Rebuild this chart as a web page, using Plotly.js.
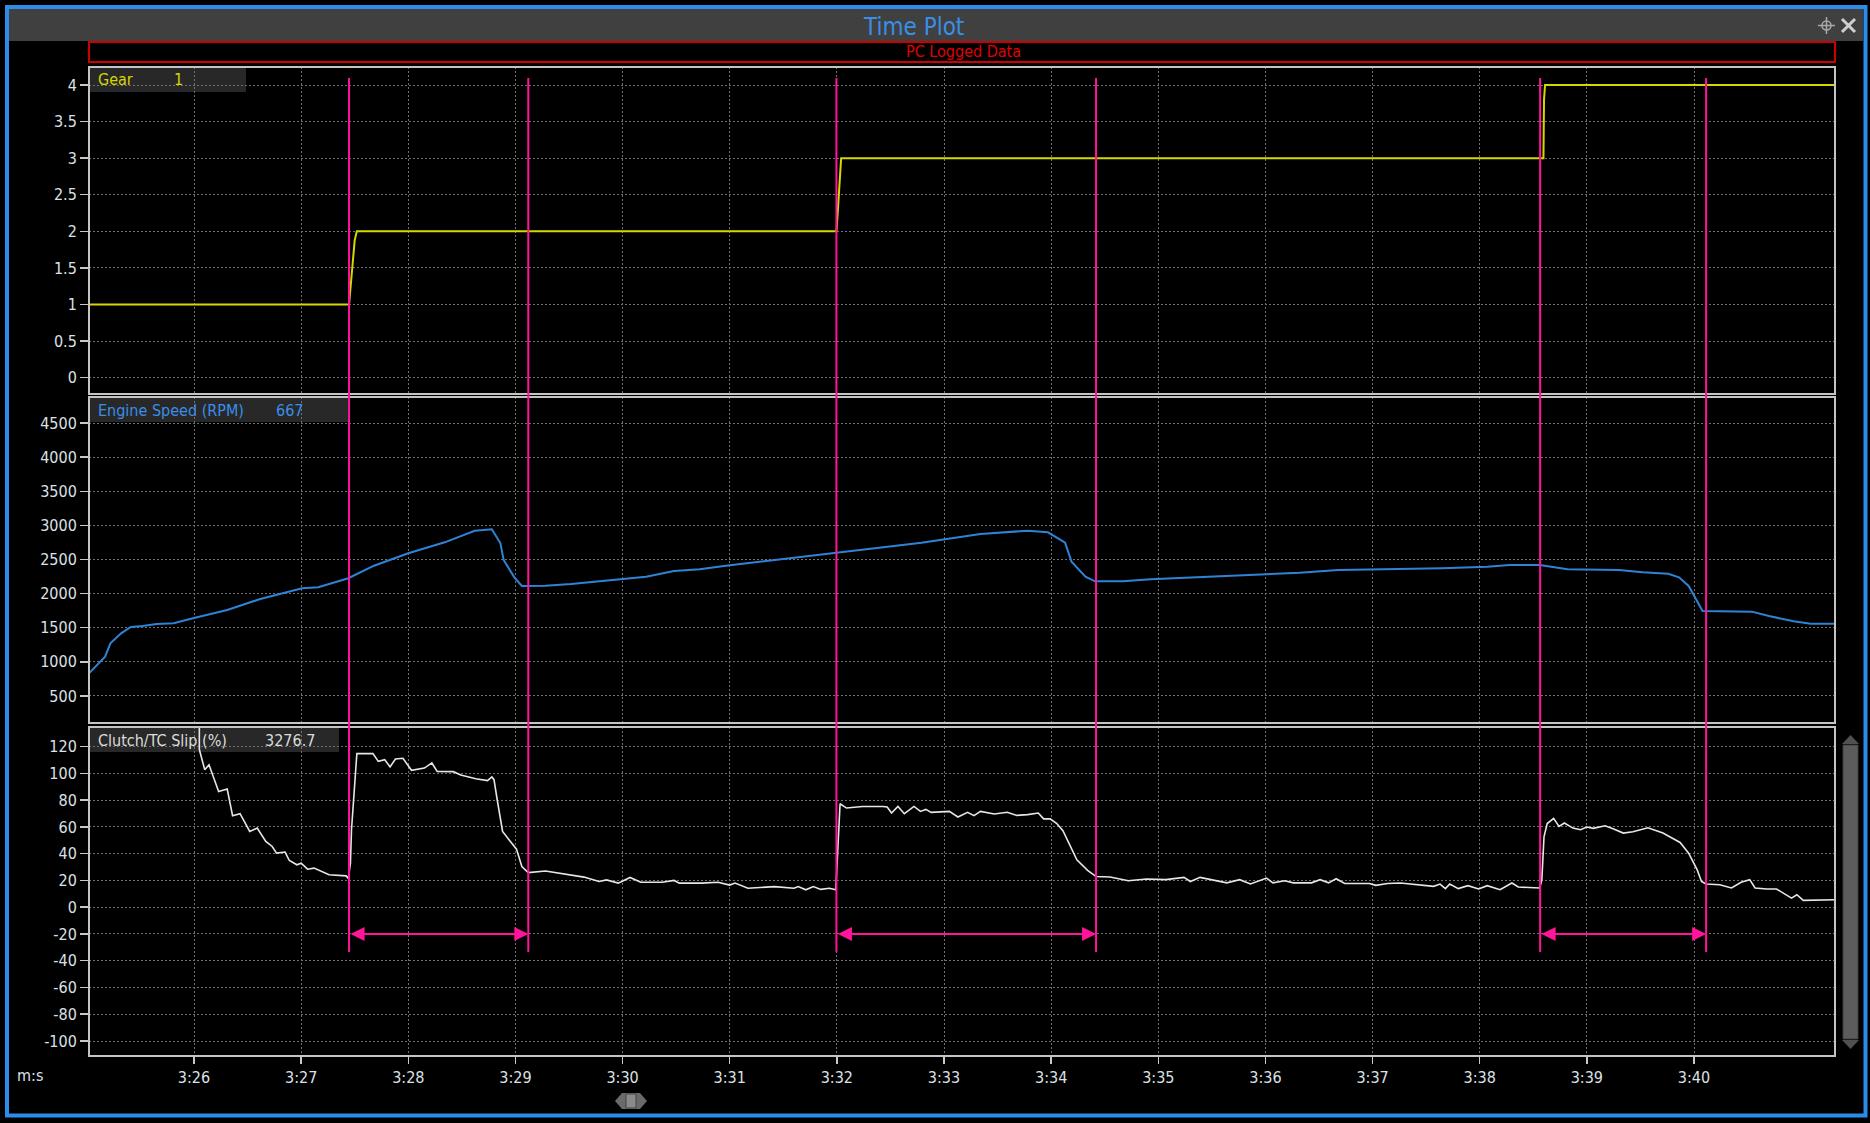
<!DOCTYPE html>
<html>
<head>
<meta charset="utf-8">
<script src="https://cdn.plot.ly/plotly-3.0.1.min.js"></script>
<style>
  html, body { margin: 0; padding: 0; background: #000; }
  #chart { width: 1870px; height: 1123px; }
</style>
</head>
<body>
<div id="chart"></div>
<script>
// ---------------- DATA (time in seconds, 205 s = 3:25) ----------------
const gearTime  = [205.02, 207.447, 207.455, 207.47, 207.484, 207.50, 207.52, 211.996, 212.01, 212.025, 212.04, 218.595, 218.60, 218.61, 221.32];
const gearValue = [1, 1, 1.13, 1.38, 1.64, 1.88, 2, 2, 2.3, 2.7, 3, 3, 3.8, 4, 4];

const rpmTime  = [205.02, 205.17, 205.22, 205.32, 205.41, 205.52, 205.65, 205.81, 206.0, 206.31, 206.61, 207.01, 207.16, 207.44, 207.68, 208.0, 208.34, 208.62, 208.78, 208.86, 208.89, 208.99, 209.06, 209.28, 209.52, 209.82, 210.22, 210.48, 210.72, 211.0, 211.4, 211.79, 211.99, 212.2, 212.45, 212.79, 213.01, 213.34, 213.78, 213.97, 214.08, 214.13, 214.19, 214.32, 214.41, 214.67, 214.93, 215.29, 215.88, 216.32, 216.68, 217.65, 218.07, 218.28, 218.56, 218.72, 218.82, 219.3, 219.52, 219.76, 219.86, 219.95, 220.02, 220.08, 220.54, 220.7, 220.93, 221.09, 221.32];
const rpmValue = [832, 1076, 1272, 1418, 1511, 1526, 1555, 1565, 1643, 1760, 1917, 2078, 2093, 2225, 2409, 2591, 2752, 2922, 2942, 2737, 2493, 2239, 2112, 2116, 2141, 2189, 2248, 2331, 2356, 2415, 2488, 2566, 2605, 2639, 2688, 2747, 2796, 2874, 2922, 2898, 2796, 2747, 2468, 2248, 2180, 2180, 2209, 2233, 2282, 2307, 2346, 2371, 2395, 2419, 2419, 2380, 2356, 2346, 2312, 2292, 2239, 2112, 1907, 1745, 1736, 1672, 1594, 1560, 1560];

const slipTime = [205.02, 206.04, 206.05, 206.10, 206.14, 206.23, 206.31, 206.36, 206.43, 206.52, 206.59, 206.67, 206.73, 206.77, 206.85, 206.89, 206.96, 207.0, 207.06, 207.12, 207.26, 207.42, 207.44, 207.46, 207.47, 207.49, 207.51, 207.52, 207.67, 207.72, 207.78, 207.83, 207.88, 207.95, 208.03, 208.15, 208.22, 208.27, 208.42, 208.49, 208.63, 208.74, 208.78, 208.80, 208.83, 208.88, 208.94, 209.01, 209.06, 209.12, 209.28, 209.46, 209.64, 209.78, 209.85, 209.96, 210.07, 210.17, 210.37, 210.48, 210.53, 210.74, 210.89, 211.0, 211.05, 211.17, 211.42, 211.6, 211.64, 211.71, 211.78, 211.85, 211.93, 211.99, 212.01, 212.03, 212.09, 212.24, 212.43, 212.47, 212.51, 212.57, 212.63, 212.72, 212.78, 212.83, 212.88, 213.05, 213.13, 213.22, 213.28, 213.34, 213.47, 213.59, 213.68, 213.78, 213.88, 213.93, 213.99, 214.05, 214.11, 214.18, 214.24, 214.34, 214.42, 214.55, 214.72, 214.89, 215.07, 215.24, 215.3, 215.39, 215.51, 215.64, 215.76, 215.86, 216.01, 216.07, 216.18, 216.26, 216.43, 216.51, 216.59, 216.66, 216.74, 216.97, 217.03, 217.14, 217.26, 217.57, 217.63, 217.68, 217.72, 217.80, 217.89, 217.99, 218.07, 218.19, 218.30, 218.36, 218.56, 218.58, 218.60, 218.63, 218.69, 218.74, 218.79, 218.87, 218.94, 219.0, 219.06, 219.17, 219.25, 219.34, 219.43, 219.57, 219.71, 219.87, 219.95, 220.03, 220.07, 220.11, 220.24, 220.35, 220.44, 220.52, 220.57, 220.68, 220.77, 220.91, 220.96, 221.02, 221.32];
const slipValue = [3276.7, 3276.7, 117.8, 102.8, 106.5, 86.5, 88.3, 68.4, 69.9, 56.6, 59.1, 49.1, 45.4, 40.4, 41.2, 34.9, 31.7, 32.9, 28.4, 29.2, 24.2, 23.4, 21.4, 32.9, 57.9, 80.3, 102.8, 114.8, 114.8, 109, 110.3, 104.8, 110.8, 111.3, 102.3, 104.0, 107.8, 101.5, 101.3, 98.8, 96.0, 94.6, 97.3, 95.3, 80.3, 56.6, 50.4, 43.4, 30.4, 25.9, 27.0, 24.9, 22.5, 19.2, 20.4, 18.0, 22.2, 18.6, 18.6, 20.0, 18.0, 18.0, 18.6, 16.5, 18.0, 14.2, 15.4, 14.2, 15.4, 13.0, 15.4, 13.3, 14.2, 13.0, 45.4, 77.3, 74.1, 75.3, 75.3, 74.9, 70.4, 75.3, 69.9, 75.3, 71.6, 73.1, 70.9, 71.6, 67.4, 70.9, 68.4, 71.6, 69.7, 70.9, 68.6, 69.2, 70.4, 66.0, 66.0, 62.7, 57.2, 45.4, 35.4, 27.5, 22.9, 22.6, 19.8, 21.1, 20.6, 22.3, 19.2, 22.3, 20.1, 18.2, 20.6, 17.4, 21.8, 18.2, 19.8, 18.2, 18.2, 20.6, 18.2, 21.3, 17.7, 17.7, 16.3, 17.7, 18.1, 15.6, 17.3, 13.9, 17.3, 13.9, 16.1, 13.6, 16.1, 13.1, 18.1, 15.1, 14.4, 20.6, 52.6, 62.5, 66.4, 60.4, 62.9, 59.1, 57.9, 59.9, 58.9, 60.9, 58.4, 55.4, 56.4, 59.4, 55.4, 48.4, 40.4, 27.9, 19.2, 17.3, 16.8, 14.4, 18.6, 20.6, 14.4, 13.6, 13.6, 6.8, 9.3, 5.1, 5.6];

const shiftStart = [207.447, 211.996, 218.564];
const shiftEnd   = [209.12, 214.419, 220.113];

const xTickVals = [206, 207, 208, 209, 210, 211, 212, 213, 214, 215, 216, 217, 218, 219, 220];
const xTickText = ['3:26', '3:27', '3:28', '3:29', '3:30', '3:31', '3:32', '3:33', '3:34', '3:35', '3:36', '3:37', '3:38', '3:39', '3:40'];
const gearTickVals = [0, 0.5, 1, 1.5, 2, 2.5, 3, 3.5, 4];
const gearTickText = ['0', '0.5', '1', '1.5', '2', '2.5', '3', '3.5', '4'];
const rpmTickVals = [500, 1000, 1500, 2000, 2500, 3000, 3500, 4000, 4500];
const rpmTickText = ['500', '1000', '1500', '2000', '2500', '3000', '3500', '4000', '4500'];
const slipTickVals = [-100, -80, -60, -40, -20, 0, 20, 40, 60, 80, 100, 120];
const slipTickText = ['-100', '-80', '-60', '-40', '-20', '0', '20', '40', '60', '80', '100', '120'];

const channelNames  = ['Gear', 'Engine Speed (RPM)', 'Clutch/TC Slip (%)'];
const channelValues = ['1', '667', '3276.7'];
const windowTitle = 'Time Plot';
const sourceLabel = 'PC Logged Data';
const timeUnitLabel = 'm:s';

// ---------------- LAYOUT HELPERS ----------------
const PL = 89, PR = 1835, PT = 67, PB = 1056;
const px = x => (x - PL) / (PR - PL);
const py = y => (PB - y) / (PB - PT);
const FONT = '"DejaVu Sans Condensed", "DejaVu Sans", sans-serif';
const PINK = '#ff149a';
const GRID = '#707070';
const TICKCOL = '#dde1e6';

const traces = [
  { x: gearTime, y: gearValue, xaxis: 'x', yaxis: 'y', mode: 'lines',
    line: { color: '#d6d600', width: 2 }, hoverinfo: 'skip' },
  { x: rpmTime, y: rpmValue, xaxis: 'x', yaxis: 'y2', mode: 'lines',
    line: { color: '#2f83d6', width: 2 }, hoverinfo: 'skip' },
  { x: slipTime, y: slipValue, xaxis: 'x', yaxis: 'y3', mode: 'lines',
    line: { color: '#e6e6e6', width: 1.6 }, hoverinfo: 'skip' }
];

const yCommon = {
  showgrid: true, gridcolor: GRID, griddash: '2px,2px', gridwidth: 1,
  zeroline: false, showline: false,
  ticks: 'outside', ticklen: 8, tickwidth: 1.5, tickcolor: '#c8c8c8',
  tickfont: { family: FONT, size: 16, color: TICKCOL },
  tickmode: 'array', fixedrange: true, anchor: 'x'
};

const shapes = [];
// window frame
shapes.push({ type: 'rect', xref: 'paper', yref: 'paper', x0: px(9), x1: px(1863), y0: py(9), y1: py(41),
  fillcolor: '#404040', line: { width: 0 }, layer: 'below' });
shapes.push({ type: 'rect', xref: 'paper', yref: 'paper', x0: px(7), x1: px(1865.5), y0: py(7), y1: py(1115.5),
  fillcolor: 'rgba(0,0,0,0)', line: { color: '#2b8de8', width: 4 }, layer: 'above' });
// source label box
shapes.push({ type: 'rect', xref: 'paper', yref: 'paper', x0: 0, x1: 1, y0: py(42), y1: py(62),
  fillcolor: 'rgba(0,0,0,0)', line: { color: '#cc0000', width: 2 }, layer: 'above' });
// legend boxes
const legendBoxes = [[PL, 246, 67, 92], [PL, 348, 397, 422], [PL, 339, 727, 752]];
legendBoxes.forEach(b => shapes.push({ type: 'rect', xref: 'paper', yref: 'paper',
  x0: px(b[0]), x1: px(b[1]), y0: py(b[3]), y1: py(b[2]),
  fillcolor: '#282828', line: { width: 0 }, layer: 'below' }));
// panel borders
['y', 'y2', 'y3'].forEach(ax => shapes.push({ type: 'rect', xref: 'x domain', yref: ax + ' domain',
  x0: 0, x1: 1, y0: 0, y1: 1, fillcolor: 'rgba(0,0,0,0)', line: { color: '#c4c4c4', width: 2 }, layer: 'above' }));
// cursor lines
shiftStart.concat(shiftEnd).forEach(t => shapes.push({ type: 'line', xref: 'x', yref: 'paper',
  x0: t, x1: t, y0: py(952), y1: py(78), line: { color: PINK, width: 2 }, layer: 'above' }));
// scrollbar (right)
shapes.push({ type: 'rect', xref: 'paper', yref: 'paper', x0: px(1843), x1: px(1858), y0: py(1039), y1: py(745),
  fillcolor: '#5c5c5c', line: { color: '#3c3c3c', width: 1 }, layer: 'above' });
shapes.push({ type: 'path', xref: 'paper', yref: 'paper',
  path: `M${px(1842)},${py(744)} L${px(1850.5)},${py(735)} L${px(1859)},${py(744)} Z`,
  fillcolor: '#505050', line: { width: 0 }, layer: 'above' });
shapes.push({ type: 'path', xref: 'paper', yref: 'paper',
  path: `M${px(1842)},${py(1040)} L${px(1850.5)},${py(1049)} L${px(1859)},${py(1040)} Z`,
  fillcolor: '#505050', line: { width: 0 }, layer: 'above' });
// horizontal scroll handle (bottom)
shapes.push({ type: 'path', xref: 'paper', yref: 'paper',
  path: `M${px(615)},${py(1101)} L${px(622)},${py(1093)} L${px(640)},${py(1093)} L${px(647)},${py(1101)} L${px(640)},${py(1109)} L${px(622)},${py(1109)} Z`,
  fillcolor: '#6a6a6a', line: { width: 0 }, layer: 'above' });
shapes.push({ type: 'rect', xref: 'paper', yref: 'paper', x0: px(626), x1: px(636), y0: py(1108), y1: py(1094),
  fillcolor: '#8a8a8a', line: { color: '#444', width: 1 }, layer: 'above' });
// close "X" icon
shapes.push({ type: 'line', xref: 'paper', yref: 'paper', x0: px(1842), x1: px(1855), y0: py(19), y1: py(32),
  line: { color: '#cfcfcf', width: 3 }, layer: 'above' });
shapes.push({ type: 'line', xref: 'paper', yref: 'paper', x0: px(1842), x1: px(1855), y0: py(32), y1: py(19),
  line: { color: '#cfcfcf', width: 3 }, layer: 'above' });
// move icon
shapes.push({ type: 'circle', xref: 'paper', yref: 'paper', x0: px(1822), x1: px(1831), y0: py(30), y1: py(21),
  fillcolor: 'rgba(0,0,0,0)', line: { color: '#a8a8a8', width: 1.5 }, layer: 'above' });
shapes.push({ type: 'line', xref: 'paper', yref: 'paper', x0: px(1818), x1: px(1835), y0: py(25.5), y1: py(25.5),
  line: { color: '#a8a8a8', width: 1.5 }, layer: 'above' });
shapes.push({ type: 'line', xref: 'paper', yref: 'paper', x0: px(1826.5), x1: px(1826.5), y0: py(17), y1: py(34),
  line: { color: '#a8a8a8', width: 1.5 }, layer: 'above' });

const annotations = [
  { xref: 'paper', yref: 'paper', x: px(913), y: py(27.5), text: windowTitle, showarrow: false,
    xanchor: 'center', yanchor: 'middle', font: { family: FONT, size: 24, color: '#3a8ee8' } },
  { xref: 'paper', yref: 'paper', x: px(963), y: py(51.5), text: sourceLabel, showarrow: false,
    xanchor: 'center', yanchor: 'middle', font: { family: FONT, size: 16, color: '#e00000' } },
  { xref: 'paper', yref: 'paper', x: px(15), y: py(1075), text: timeUnitLabel, showarrow: false,
    xanchor: 'left', yanchor: 'middle', font: { family: FONT, size: 16, color: TICKCOL } }
];
const legendColors = ['#d6d600', '#3a8ee8', '#dcdcdc'];
const legendNameY = [80, 410, 740];
const legendValueX = [172, 274, 263];
for (let i = 0; i < 3; i++) {
  annotations.push({ xref: 'paper', yref: 'paper', x: px(96), y: py(legendNameY[i]), text: channelNames[i],
    showarrow: false, xanchor: 'left', yanchor: 'middle', font: { family: FONT, size: 16, color: legendColors[i] } });
  annotations.push({ xref: 'paper', yref: 'paper', x: px(legendValueX[i]), y: py(legendNameY[i]), text: channelValues[i],
    showarrow: false, xanchor: 'left', yanchor: 'middle', font: { family: FONT, size: 16, color: legendColors[i] } });
}
for (let i = 0; i < shiftStart.length; i++) {
  annotations.push({ xref: 'x', yref: 'y3', axref: 'x', ayref: 'y3',
    x: shiftEnd[i], y: -20, ax: shiftStart[i], ay: -20, text: '',
    showarrow: true, arrowhead: 2, startarrowhead: 2, arrowside: 'end+start',
    arrowsize: 1.4, startarrowsize: 1.4, arrowwidth: 2, arrowcolor: PINK, standoff: 0, startstandoff: 0 });
}

const layout = {
  width: 1870, height: 1123,
  paper_bgcolor: '#000', plot_bgcolor: 'rgba(0,0,0,0)',
  margin: { l: PL, r: 1870 - PR, t: PT, b: 1123 - PB, pad: 0 },
  showlegend: false,
  xaxis: {
    range: [205.02, 221.316], anchor: 'y3', domain: [0, 1],
    tickmode: 'array', tickvals: xTickVals, ticktext: xTickText,
    showgrid: true, gridcolor: GRID, griddash: '2px,2px', gridwidth: 1,
    zeroline: false, showline: false,
    ticks: 'outside', ticklen: 7, tickwidth: 1.5, tickcolor: '#c8c8c8',
    ticklabelstandoff: 0,
    tickfont: { family: FONT, size: 16, color: TICKCOL }, fixedrange: true
  },
  yaxis: Object.assign({}, yCommon, { domain: [0.6694, 1], range: [-0.223, 4.246],
    tickvals: gearTickVals, ticktext: gearTickText }),
  yaxis2: Object.assign({}, yCommon, { domain: [0.3367, 0.6663], range: [104, 4881],
    tickvals: rpmTickVals, ticktext: rpmTickText }),
  yaxis3: Object.assign({}, yCommon, { domain: [0, 0.3327], range: [-111.2, 134.7],
    tickvals: slipTickVals, ticktext: slipTickText }),
  shapes: shapes,
  annotations: annotations
};

Plotly.newPlot('chart', traces, layout, { displayModeBar: false, staticPlot: true });
</script>
</body>
</html>
